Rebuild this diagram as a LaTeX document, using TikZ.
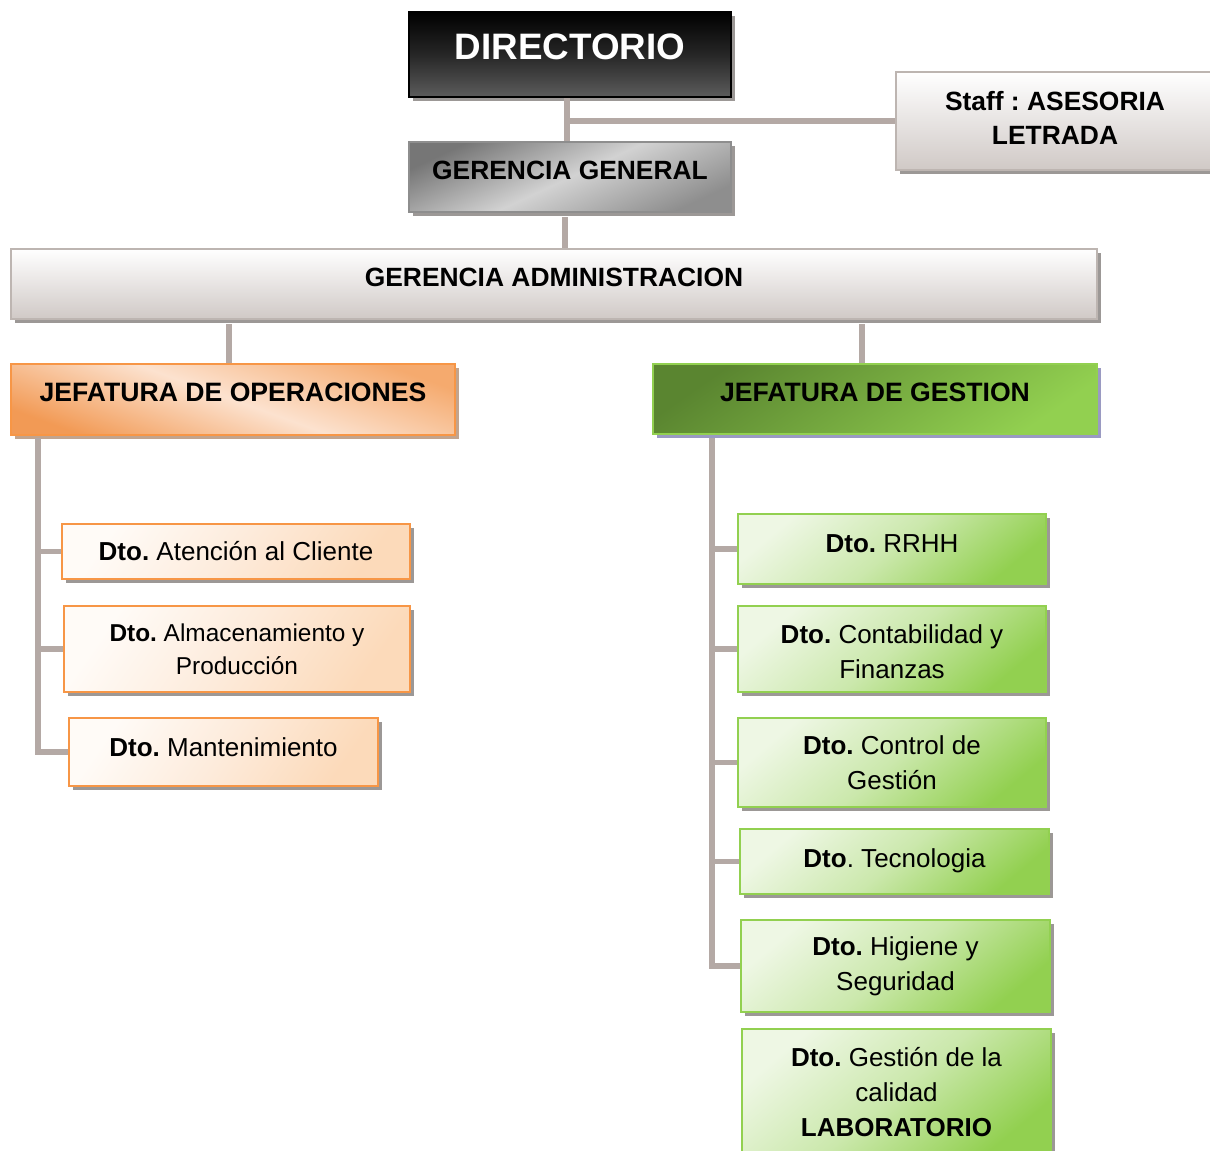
\documentclass[tikz,border=0pt]{standalone}
\usepackage{fontspec}
\setmainfont{Liberation Sans}
\usetikzlibrary{shadows,calc}
\frenchspacing
\definecolor{conncol}{HTML}{B4A9A5}
\definecolor{orline}{HTML}{F79646}
\definecolor{grline}{HTML}{92D050}
\definecolor{gaborder}{HTML}{BDB5B1}
\definecolor{gabot}{HTML}{D0C9C6}
\definecolor{shgray}{HTML}{9C9896}
\definecolor{shor}{HTML}{C2A48E}
\definecolor{shgr}{HTML}{9A9AC2}
\definecolor{joA}{HTML}{F5AA6E}
\definecolor{joB}{HTML}{FCE2CF}
\definecolor{joC}{HTML}{F29A55}
\definecolor{odA}{HTML}{FFFBF7}
\definecolor{odB}{HTML}{FDEBDB}
\definecolor{odC}{HTML}{FCDABA}
\definecolor{jgA}{HTML}{5A8530}
\definecolor{jgB}{HTML}{92D050}
\definecolor{gdA}{HTML}{EEF7E4}
\definecolor{gdB}{HTML}{CBE8AC}
\definecolor{gdC}{HTML}{92D050}
\definecolor{ggA}{HTML}{767676}
\definecolor{ggB}{HTML}{D2D2D2}
\definecolor{ggC}{HTML}{8E8E8E}
\definecolor{dirB}{HTML}{5C5C5C}
\tikzset{
  basebox/.style={rectangle, inner sep=2pt, align=center, line width=1pt, font=\fontsize{13}{17.5}\selectfont},
  shad/.style={drop shadow={shadow xshift=2.2pt, shadow yshift=-2.2pt, opacity=1, fill=#1}},
  dirbox/.style={basebox, draw=black, top color=black, bottom color=dirB, middle color=black!85, shad=shgray,
     text=white, font=\fontsize{18.4}{22}\selectfont\bfseries},
  ggbox/.style={basebox, draw=ggC, top color=ggA, bottom color=ggC, middle color=ggB, shading angle=25, shad=shgray,
     font=\fontsize{13.2}{17}\selectfont\bfseries},
  gabox/.style={basebox, draw=gaborder, top color=white, bottom color=gabot, shad=shgray,
     font=\fontsize{13.2}{17}\selectfont\bfseries},
  jobox/.style={basebox, draw=orline, top color=joA, bottom color=joC, middle color=joB, shading angle=-20, shad=shor,
     font=\fontsize{13.3}{17}\selectfont\bfseries},
  jgbox/.style={basebox, draw=grline, top color=jgA, bottom color=jgB, shading angle=35, shad=shgr,
     font=\fontsize{13.3}{17}\selectfont\bfseries},
  odbox/.style={basebox, draw=orline, top color=odA, bottom color=odC, middle color=odB, shading angle=55, shad=shgray},
  gdbox/.style={basebox, draw=grline, top color=gdA, bottom color=gdC, middle color=gdB, shading angle=40, shad=shgray},
  conn/.style={draw=conncol, line width=2.8pt},
}
\begin{document}
\begin{tikzpicture}[x=0.5pt,y=-0.5pt]
\clip (0,0) rectangle (1210,1151);
\fill[white] (0,0) rectangle (1210,1151);

% boxes
\node[dirbox, minimum width=161pt, minimum height=42.5pt] (dir) at (570,54.5) {\raisebox{7.5pt}{DIRECTORIO}};
\node[ggbox, minimum width=161pt, minimum height=35pt] (gg) at (570,177) {\raisebox{6.5pt}{GERENCIA GENERAL}};
\node[gabox, minimum width=159pt, minimum height=49pt] (staff) at (1055,121) {\raisebox{3.5pt}{\begin{tabular}{@{}c@{}}Staff : ASESORIA\\LETRADA\end{tabular}}};
\node[gabox, minimum width=543pt, minimum height=35pt] (ga) at (554,284) {\raisebox{7pt}{GERENCIA ADMINISTRACION}};
\node[jobox, minimum width=222pt, minimum height=35.5pt] (jo) at (233,399.5) {\raisebox{7pt}{JEFATURA DE OPERACIONES}};
\node[jgbox, minimum width=222pt, minimum height=35pt] (jg) at (875,399) {\raisebox{7pt}{JEFATURA DE GESTION}};

\node[odbox, minimum width=174pt, minimum height=27.5pt] (d1) at (236,551.5) {\textbf{Dto.} Atención al Cliente};
\node[odbox, minimum width=173pt, minimum height=43pt, font=\fontsize{12.2}{16.5}\selectfont] (d2) at (237,649) {\textbf{Dto.} Almacenamiento y\\Producción};
\node[odbox, minimum width=154.5pt, minimum height=34pt] (d3) at (223.5,752) {\raisebox{5pt}{\textbf{Dto.} Mantenimiento}};

\node[gdbox, minimum width=154pt, minimum height=35pt] (g1) at (892,549) {\raisebox{5.5pt}{\textbf{Dto.} RRHH}};
\node[gdbox, minimum width=154pt, minimum height=43pt] (g2) at (892,649) {\raisebox{-2.5pt}[\height][\depth]{\begin{tabular}{@{}c@{}}\textbf{Dto.} Contabilidad y\\Finanzas\end{tabular}}};
\node[gdbox, minimum width=154pt, minimum height=44.5pt] (g3) at (892,762.5) {\textbf{Dto.} Control de\\Gestión};
\node[gdbox, minimum width=154.5pt, minimum height=32.5pt] (g4) at (894.5,861.5) {\raisebox{3.5pt}{\textbf{Dto}. Tecnologia}};
\node[gdbox, minimum width=154.5pt, minimum height=46pt] (g5) at (895.5,966) {\textbf{Dto.} Higiene y\\Seguridad};
\node[gdbox, minimum width=154.5pt, minimum height=63.5pt] (g6) at (896.5,1092.5) {\textbf{Dto.} Gestión de la\\calidad\\\textbf{LABORATORIO}};

% connectors
\draw[conn] ([xshift=-1.5pt]dir.south) -- ([xshift=-1.5pt]gg.north);
\draw[conn] ([xshift=-1.5pt]dir.south |- staff.west) -- (staff.west);
\draw[conn] ([xshift=-2.5pt,yshift=-2.2pt]gg.south) -- ([xshift=-2.5pt]gg.south |- ga.north);
\draw[conn] ([xshift=-2pt,yshift=-2.2pt]jo.north |- ga.south) -- ([xshift=-2pt]jo.north);
\draw[conn] ([xshift=-6.5pt,yshift=-2.2pt]jg.north |- ga.south) -- ([xshift=-6.5pt]jg.north);

\coordinate (ot) at (38,438);
\draw[conn] (ot) |- (d3.west);
\draw[conn] (ot |- d1.west) -- (d1.west);
\draw[conn] (ot |- d2.west) -- (d2.west);

\coordinate (gt) at (712,438);
\draw[conn] (gt) |- (g5.west);
\draw[conn] (gt |- g1.west) -- (g1.west);
\draw[conn] (gt |- g2.west) -- (g2.west);
\draw[conn] (gt |- g3.west) -- (g3.west);
\draw[conn] (gt |- g4.west) -- (g4.west);
\end{tikzpicture}
\end{document}
